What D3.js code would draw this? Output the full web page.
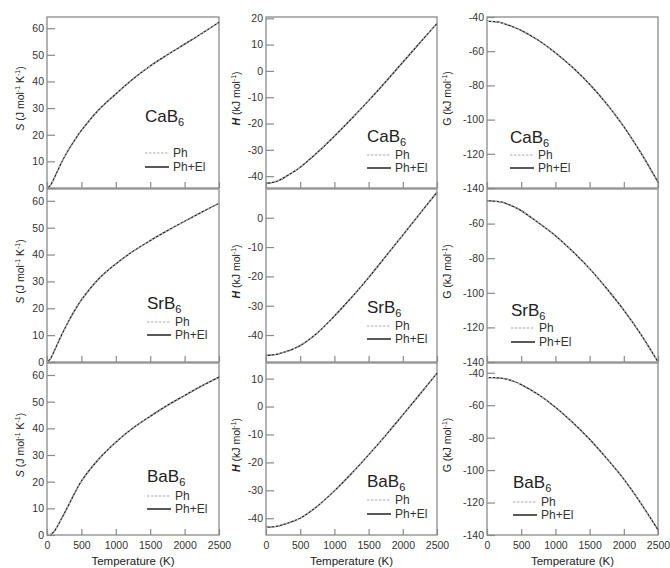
<!DOCTYPE html>
<html>
<head>
<meta charset="utf-8">
<script src="https://cdn.jsdelivr.net/npm/d3@7"></script>
<style>
  body { margin: 0; background: #fff; }
  svg { display: block; font-family: "Liberation Sans", Arial, sans-serif; }
</style>
</head>
<body>
<svg id="chart" width="670" height="568"></svg>
<script>
// values
const temperature = [0, 50, 100, 150, 200, 300, 400, 500, 750, 1000, 1250, 1500, 1750, 2000, 2250, 2500];
const compounds = ["CaB6", "SrB6", "BaB6"];

const sCaB6 = [0, 1, 3.5, 6.2, 9, 13.8, 17.9, 21.6, 29.3, 35.3, 40.9, 45.8, 50, 54, 58, 62.2];
const sSrB6 = [0, 1.2, 3.8, 6.6, 9.4, 14.5, 19.1, 23.1, 30.9, 36.5, 41.2, 45.2, 48.9, 52.4, 55.8, 59.1];
const sBaB6 = [null, 0.2, 1.2, 3.2, 5.6, 10.5, 15.6, 20.2, 28.4, 34.8, 40.1, 44.5, 48.6, 52.3, 55.9, 59.2];

const hCaB6 = [-42.6, -42.6, -42.4, -42, -41.5, -40, -38.4, -36.6, -31, -24.8, -18.2, -11.3, -4.1, 3.3, 10.7, 18.1];
const hSrB6 = [-46.9, -46.9, -46.8, -46.6, -46.3, -45.6, -44.7, -43.6, -39.3, -33.5, -27.2, -20.4, -13.2, -5.9, 1.4, 8.7];
const hBaB6 = [-43.2, -43.2, -43.1, -42.9, -42.6, -41.9, -41, -40, -35.7, -30.2, -24, -17.3, -10.3, -3, 4.4, 12];

const gCaB6 = [-42.6, -42.6, -42.7, -42.9, -43.3, -44.6, -46.1, -47.8, -53.6, -60.9, -69.4, -79.3, -90.8, -104.1, -119.5, -136.6];
const gSrB6 = [-46.9, -46.9, -47, -47.2, -47.5, -48.7, -50.4, -52.5, -59.5, -67, -76, -86, -97.5, -110, -124, -140];
const gBaB6 = [-43, -43, -43, -43.1, -43.3, -44.1, -45.4, -47.3, -53.4, -61.2, -70.5, -81, -92.8, -105.6, -120.5, -136.8];

const xTicks = [0, 500, 1000, 1500, 2000, 2500];
const sTicks = [0, 10, 20, 30, 40, 50, 60];
const hTicks = [[-40, -30, -20, -10, 0, 10, 20], [-40, -30, -20, -10, 0], [-40, -30, -20, -10, 0, 10]];
const gTicks = [[-140, -120, -100, -80, -60, -40], [-140, -120, -100, -80, -60], [-140, -120, -100, -80, -60, -40]];

const sDomains = [[0, 64.2], [0, 64.4], [0, 64.5]];
const hDomains = [[-44.5, 20.5], [-49.2, 9.8], [-46, 15.6]];
const gDomains = [[-140, -40], [-140, -40], [-140, -34]];

const seriesNames = ["Ph", "Ph+El"];

// layout
const svg = d3.select("#chart");
const colX = [47, 266, 487], colW = [172, 171, 171];
const rowY = [17, 189, 363], rowH = [171, 173, 172];
const labelX = [24, 240, 451];
const legendPos = [
  [[98, 105, 136, 150], [101, 125, 138, 151], [23, 126, 138, 151]],
  [[100, 120, 133, 146], [101, 124, 137, 150], [24, 127, 139, 153]],
  [[100, 119, 133, 146], [101, 124, 137, 151], [26, 125, 139, 152]]
];

const sData = [sCaB6, sSrB6, sBaB6];
const hData = [hCaB6, hSrB6, hBaB6];
const gData = [gCaB6, gSrB6, gBaB6];

const panels = [];
compounds.forEach((c, r) => {
  panels.push({ row: r, col: 0, name: c, values: sData[r], domain: sDomains[r], ticks: sTicks });
  panels.push({ row: r, col: 1, name: c, values: hData[r], domain: hDomains[r], ticks: hTicks[r] });
  panels.push({ row: r, col: 2, name: c, values: gData[r], domain: gDomains[r], ticks: gTicks[r] });
});

const frameColor = "#8a8a8a";

panels.forEach(p => {
  const x0 = colX[p.col], y0 = rowY[p.row], w = colW[p.col], h = rowH[p.row];
  const x = d3.scaleLinear().domain([0, 2500]).range([x0, x0 + w]);
  const y = d3.scaleLinear().domain(p.domain).range([y0 + h, y0]);
  const g = svg.append("g");

  // y axis, ticks pointing inwards
  const ya = g.append("g")
    .attr("transform", "translate(" + x0 + ",0)")
    .call(d3.axisLeft(y).tickValues(p.ticks).tickSize(-8).tickPadding(3).tickFormat(d => String(d)));
  // x axis
  const xa = g.append("g")
    .attr("transform", "translate(0," + (y0 + h) + ")")
    .call(d3.axisBottom(x).tickValues(xTicks).tickSize(-6).tickPadding(7)
      .tickFormat(d => p.row === 2 ? String(d) : ""));
  [ya, xa].forEach(a => {
    a.attr("font-family", null).attr("font-size", 10.5);
    a.select(".domain").remove();
    a.selectAll(".tick line").attr("stroke", frameColor).attr("stroke-width", 1.2);
    a.selectAll(".tick text").attr("fill", "#333");
  });

  // frame
  g.append("rect")
    .attr("x", x0).attr("y", y0).attr("width", w).attr("height", h)
    .attr("fill", "none").attr("stroke", frameColor).attr("stroke-width", 1.3);

  // curves: Ph+El solid, Ph dashed on top
  const pts = temperature.map((t, i) => [t, p.values[i]]);
  const line = d3.line()
    .defined(d => d[1] !== null)
    .x(d => x(d[0])).y(d => y(d[1]))
    .curve(d3.curveCatmullRom.alpha(0.5));
  g.append("path").attr("d", line(pts))
    .attr("fill", "none").attr("stroke", "#222").attr("stroke-width", 1.3);
  g.append("path").attr("d", line(pts))
    .attr("fill", "none").attr("stroke", "#bbb").attr("stroke-width", 1.1)
    .attr("stroke-dasharray", "2,2");

  // legend
  const lp = legendPos[p.row][p.col];
  const lx = x0 + lp[0];
  const title = g.append("text")
    .attr("x", lx).attr("y", y0 + lp[1])
    .attr("font-size", 17).attr("fill", "#222");
  title.append("tspan").text(p.name.slice(0, 3));
  title.append("tspan").attr("font-size", 11).attr("dy", 4).text(p.name.slice(3));

  [lp[2], lp[3]].forEach((ly, k) => {
    g.append("line")
      .attr("x1", lx).attr("x2", lx + 24)
      .attr("y1", y0 + ly).attr("y2", y0 + ly)
      .attr("stroke", k === 0 ? "#aaa" : "#222")
      .attr("stroke-width", k === 0 ? 1.2 : 1.5)
      .attr("stroke-dasharray", k === 0 ? "2.5,1.5" : null);
    g.append("text")
      .attr("x", lx + 28).attr("y", y0 + ly + 4)
      .attr("font-size", 12).attr("fill", "#333")
      .text(seriesNames[k]);
  });

  // y label
  const cy = y0 + h / 2 - 4;
  const lab = g.append("text")
    .attr("transform", "translate(" + labelX[p.col] + "," + cy + ") rotate(-90)")
    .attr("text-anchor", "middle")
    .attr("font-size", 10.5).attr("fill", "#222");
  const sup = (txt) => {
    lab.append("tspan").attr("font-size", 7).attr("dy", -4).text(txt);
  };
  if (p.col === 0) {
    lab.append("tspan").attr("font-style", "italic").text("S");
    lab.append("tspan").text(" (J mol");
    sup("-1");
    lab.append("tspan").attr("dy", 4).text(" K");
    sup("-1");
    lab.append("tspan").attr("dy", 4).text(")");
  } else {
    lab.append("tspan").attr("font-style", p.col === 1 ? "italic" : null)
      .attr("font-weight", p.col === 1 ? "bold" : null).text(p.col === 1 ? "H" : "G");
    lab.append("tspan").text(" (kJ mol");
    sup("-1");
    lab.append("tspan").attr("dy", 4).text(")");
  }

  if (p.row === 2) {
    g.append("text")
      .attr("x", x0 + w / 2).attr("y", 565)
      .attr("text-anchor", "middle")
      .attr("font-size", 11.5).attr("fill", "#222")
      .text("Temperature (K)");
  }
});
</script>
</body>
</html>
